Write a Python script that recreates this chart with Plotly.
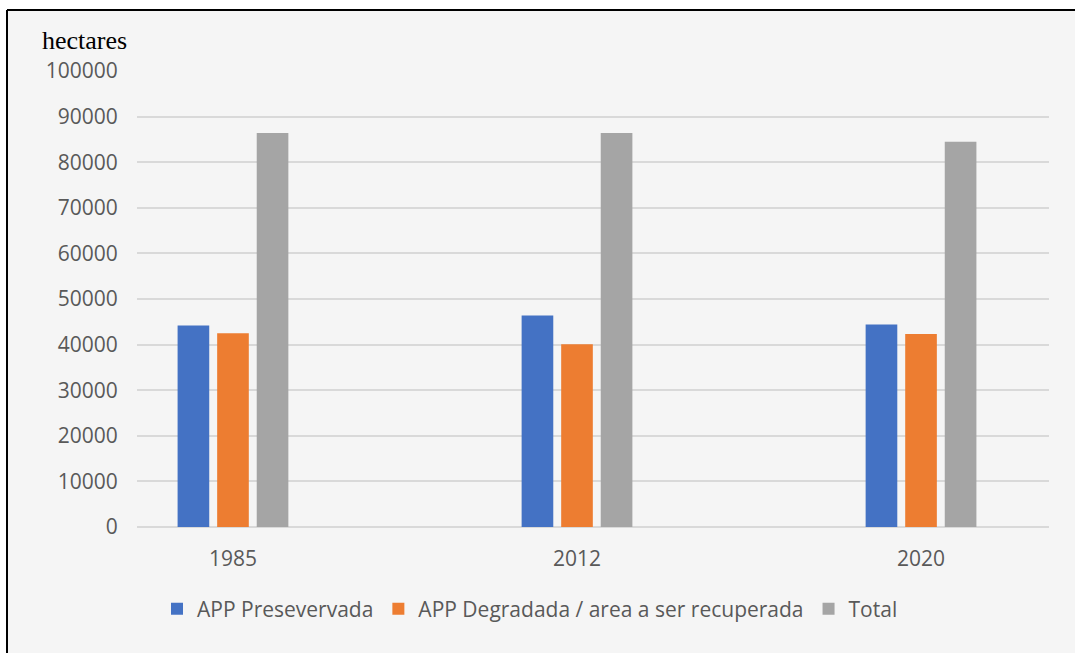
import plotly.graph_objects as go

years = ["1985", "2012", "2020"]
app_preservada = [44200, 46400, 44400]
app_degradada = [42500, 40100, 42300]
total = [86400, 86400, 84500]
series_names = ["APP Presevervada", "APP Degradada / area a ser recuperada", "Total"]
colors = ["#4472C4", "#ED7D31", "#A5A5A5"]
y_ticks = list(range(0, 100001, 10000))

W, H = 1075, 653
L, R, T, B = 137, 26, 71, 126
pw, ph = W - L - R, H - T - B

def px_x(p):
    return (p - L) / pw

def px_y(p):
    return (H - B - p) / ph

fig = go.Figure()
for name, vals, col in zip(series_names, [app_preservada, app_degradada, total], colors):
    fig.add_trace(go.Bar(x=years, y=vals, name=name, marker=dict(color=col, line=dict(width=0))))

frame_shapes = [
    dict(type="rect", xref="paper", yref="paper", layer="below",
         x0=px_x(-5), x1=px_x(7), y0=px_y(H + 5), y1=px_y(-5),
         fillcolor="white", line=dict(width=0)),
    dict(type="rect", xref="paper", yref="paper", layer="below",
         x0=px_x(-5), x1=px_x(W + 5), y0=px_y(10), y1=px_y(-5),
         fillcolor="white", line=dict(width=0)),
    dict(type="line", xref="paper", yref="paper", layer="below",
         x0=px_x(7), x1=px_x(W + 5), y0=px_y(10), y1=px_y(10),
         line=dict(color="black", width=2)),
    dict(type="line", xref="paper", yref="paper", layer="below",
         x0=px_x(7), x1=px_x(7), y0=px_y(10), y1=px_y(H + 5),
         line=dict(color="black", width=2)),
]

fig.update_layout(
    width=W, height=H,
    margin=dict(l=L, r=R, t=T, b=B, autoexpand=False),
    paper_bgcolor="#F5F5F5",
    plot_bgcolor="rgba(0,0,0,0)",
    barmode="group",
    bargap=0.655,
    bargroupgap=0.2,
    font=dict(family="Open Sans", color="#595959", size=21),
    xaxis=dict(type="category", range=[-0.279, 2.372], showgrid=False, zeroline=False,
               showline=False, ticks="outside", ticklen=13, tickcolor="rgba(0,0,0,0)",
               tickfont=dict(size=21, color="#595959")),
    yaxis=dict(range=[0, 100000], tickvals=y_ticks, ticktext=[str(v) for v in y_ticks],
               showgrid=True, gridcolor="#D9D9D9", gridwidth=2, zeroline=True,
               zerolinecolor="#D9D9D9", zerolinewidth=2,
               ticks="outside", ticklen=14, tickcolor="rgba(0,0,0,0)",
               tickfont=dict(size=21, color="#595959")),
    legend=dict(orientation="h", x=px_x(530), xanchor="center", y=px_y(609), yanchor="middle",
                font=dict(size=21, color="#595959"), bgcolor="rgba(0,0,0,0)",
                itemwidth=30, tracegroupgap=0),
    showlegend=True,
    shapes=frame_shapes,
    annotations=[dict(text="hectares", xref="paper", yref="paper", x=px_x(40), y=px_y(41),
                      xanchor="left", yanchor="middle", showarrow=False,
                      font=dict(family="Liberation Serif", size=26, color="black"))],
)

fig.write_html("out.html", config={"displayModeBar": False},
               post_script="document.body.style.margin='0';document.body.style.overflow='hidden';")
